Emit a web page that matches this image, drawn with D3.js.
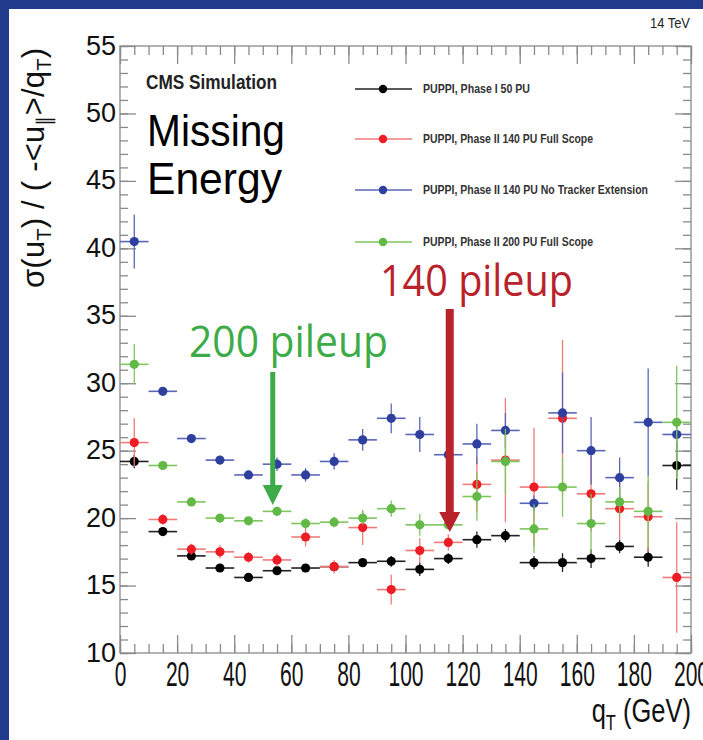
<!DOCTYPE html>
<html>
<head>
<meta charset="utf-8">
<script src="https://cdn.jsdelivr.net/npm/d3@7"></script>
<style>
  body { margin: 0; background: #fff; }
  svg text { font-family: "Liberation Sans", Arial, sans-serif; }
</style>
</head>
<body>
<div id="chart"></div>
<script>
// bin centres (GeV) and resolution values
const qtBins = [5, 15, 25, 35, 45, 55, 65, 75, 85, 95, 105, 115, 125, 135, 145, 155, 165, 175, 185, 195];

const pu50      = [24.2, 19.0, 17.2, 16.3, 15.6, 16.1, 16.3, 16.4, 16.7, 16.8, 16.2, 17.0, 18.4, 18.7, 16.7, 16.7, 17.0, 17.9, 17.1, 23.9];
const pu50Err   = [0.5, 0.3, 0.3, 0.3, 0.3, 0.3, 0.3, 0.3, 0.3, 0.4, 0.5, 0.4, 0.6, 0.5, 0.5, 0.7, 0.7, 0.5, 0.7, 1.8];
const pu140     = [25.6, 19.9, 17.7, 17.5, 17.1, 16.9, 18.6, 16.4, 19.3, 14.7, 17.6, 18.2, 22.5, 24.3, 22.3, 27.4, 21.8, 20.7, 20.1, 15.6];
const pu140Err  = [1.8, 0.4, 0.4, 0.5, 0.4, 0.5, 0.7, 0.5, 1.3, 1.1, 0.9, 0.6, 2.0, 4.6, 4.4, 5.8, 2.8, 2.3, 2.6, 4.1];
const pu140NoTk    = [40.5, 29.4, 25.9, 24.3, 23.2, 24.0, 23.2, 24.2, 25.8, 27.4, 26.2, 24.7, 25.5, 26.5, 21.1, 27.8, 25.0, 23.0, 27.1, 26.2];
const pu140NoTkErr = [2.0, 0.3, 0.3, 0.3, 0.3, 0.5, 0.5, 0.6, 0.8, 1.1, 1.3, 0.5, 1.5, 1.3, 0.6, 3.0, 2.5, 1.5, 4.0, 1.0];
const pu200     = [31.4, 23.9, 21.2, 20.0, 19.8, 20.5, 19.6, 19.7, 20.0, 20.7, 19.5, 19.5, 21.6, 24.2, 19.2, 22.3, 19.6, 21.2, 20.5, 27.1];
const pu200Err  = [1.5, 0.3, 0.3, 0.3, 0.3, 0.3, 0.4, 0.4, 0.5, 0.6, 0.8, 0.3, 1.8, 2.4, 1.8, 2.2, 2.2, 1.1, 2.7, 4.2];

const seriesNames = [
  "PUPPI, Phase I 50 PU",
  "PUPPI, Phase II 140 PU Full Scope",
  "PUPPI, Phase II 140 PU No Tracker Extension",
  "PUPPI, Phase II 200 PU Full Scope"
];
const xTicks = [0, 20, 40, 60, 80, 100, 120, 140, 160, 180, 200];
const yTicks = [10, 15, 20, 25, 30, 35, 40, 45, 50, 55];
const binHalfWidth = 5;

// styling per series
const series = [
  { name: seriesNames[0], vals: pu50,       errs: pu50Err,       dot: "#000000", line: "#222222", legendW: 107 },
  { name: seriesNames[1], vals: pu140,      errs: pu140Err,      dot: "#ee1c24", line: "#f27a7a", legendW: 170 },
  { name: seriesNames[2], vals: pu140NoTk,  errs: pu140NoTkErr,  dot: "#2e3f9e", line: "#5a67b8", legendW: 225 },
  { name: seriesNames[3], vals: pu200,      errs: pu200Err,      dot: "#62b946", line: "#7fc65e", legendW: 170 }
];

const W = 703, H = 740;
const plot = { left: 120, right: 691, top: 46, bottom: 653 };

const svg = d3.select("#chart")
  .append("svg")
    .attr("width", W)
    .attr("height", H);

// slide frame
svg.append("rect").attr("width", W).attr("height", H).attr("fill", "#223a8b");
svg.append("rect").attr("x", 9).attr("y", 9).attr("width", W - 9).attr("height", H - 9).attr("fill", "#fff");

const x = d3.scaleLinear().domain([0, 200]).range([plot.left, plot.right]);
const y = d3.scaleLinear().domain([10, 55]).range([plot.bottom, plot.top]);

// frame
svg.append("rect")
  .attr("x", plot.left).attr("y", plot.top)
  .attr("width", plot.right - plot.left).attr("height", plot.bottom - plot.top)
  .attr("fill", "none").attr("stroke", "#8a8a8a").attr("stroke-width", 1.3);

const axisColor = "#8a8a8a";
function styleTicks(g) {
  g.select(".domain").remove();
  g.selectAll(".tick line").attr("stroke", axisColor).attr("stroke-width", 1.3);
}

// x ticks, bottom and top
const xMinor = d3.range(0, 201, 5);
svg.append("g").attr("transform", `translate(0,${plot.bottom})`)
  .call(d3.axisBottom(x).tickValues(xMinor).tickSize(-9).tickFormat(""))
  .call(styleTicks);
svg.append("g").attr("transform", `translate(0,${plot.top})`)
  .call(d3.axisTop(x).tickValues(xMinor).tickSize(-9).tickFormat(""))
  .call(styleTicks);
const xMajor = svg.append("g").attr("transform", `translate(0,${plot.bottom})`)
  .call(d3.axisBottom(x).tickValues(xTicks).tickSize(-18).tickFormat(d => d))
  .call(styleTicks);
xMajor.selectAll(".tick text")
  .attr("y", 0).attr("dy", null)
  .attr("transform", "translate(0,33) scale(0.62,1.05)")
  .attr("fill", "#111")
  .style("font-size", "34px");
svg.append("g").attr("transform", `translate(0,${plot.top})`)
  .call(d3.axisTop(x).tickValues(xTicks).tickSize(-18).tickFormat(""))
  .call(styleTicks);

// y ticks, left and right
const yMinor = d3.range(10, 55.5, 1);
svg.append("g").attr("transform", `translate(${plot.left},0)`)
  .call(d3.axisLeft(y).tickValues(yMinor).tickSize(-8).tickFormat(""))
  .call(styleTicks);
svg.append("g").attr("transform", `translate(${plot.right},0)`)
  .call(d3.axisRight(y).tickValues(yMinor).tickSize(-8).tickFormat(""))
  .call(styleTicks);
const yMajor = svg.append("g").attr("transform", `translate(${plot.left},0)`)
  .call(d3.axisLeft(y).tickValues(yTicks).tickSize(-16).tickFormat(d => d))
  .call(styleTicks);
yMajor.selectAll(".tick text")
  .attr("x", -4).attr("dy", "0.3em")
  .attr("fill", "#111")
  .style("font-size", "27px");
svg.append("g").attr("transform", `translate(${plot.right},0)`)
  .call(d3.axisRight(y).tickValues(yTicks).tickSize(-16).tickFormat(""))
  .call(styleTicks);

// data: error bars then markers, series in legend order
series.forEach(s => {
  const pts = qtBins.map((q, i) => ({ q: q, v: s.vals[i], e: s.errs[i] }));
  const g = svg.append("g");
  g.selectAll("line.h").data(pts).join("line")
    .attr("x1", d => x(d.q - binHalfWidth)).attr("x2", d => x(d.q + binHalfWidth))
    .attr("y1", d => y(d.v)).attr("y2", d => y(d.v))
    .attr("stroke", s.line).attr("stroke-width", 1.6);
  g.selectAll("line.v").data(pts).join("line")
    .attr("x1", d => x(d.q)).attr("x2", d => x(d.q))
    .attr("y1", d => y(d.v - d.e)).attr("y2", d => y(d.v + d.e))
    .attr("stroke", s.line).attr("stroke-width", 1.3);
  g.selectAll("circle").data(pts).join("circle")
    .attr("cx", d => x(d.q)).attr("cy", d => y(d.v))
    .attr("r", 4.6).attr("fill", s.dot);
});

// legend
const legendRows = [89, 139, 190, 242];
const legend = svg.selectAll(".legend").data(series).join("g")
  .attr("transform", (d, i) => `translate(0,${legendRows[i]})`);
legend.append("line").attr("x1", 355).attr("x2", 412).attr("y1", 0).attr("y2", 0)
  .attr("stroke", d => d.line).attr("stroke-width", 1.4);
legend.append("circle").attr("cx", 383).attr("cy", 0).attr("r", 4.2).attr("fill", d => d.dot);
legend.append("text").attr("x", 423).attr("y", 4)
  .attr("textLength", d => d.legendW).attr("lengthAdjust", "spacingAndGlyphs")
  .style("font-size", "12px").style("font-weight", "bold").attr("fill", "#333")
  .text(d => d.name);

// labels
svg.append("text").attr("x", 146).attr("y", 89)
  .attr("textLength", 131).attr("lengthAdjust", "spacingAndGlyphs")
  .style("font-size", "21px").style("font-weight", "bold").attr("fill", "#222")
  .text("CMS Simulation");
svg.append("text").attr("x", 147).attr("y", 146)
  .attr("textLength", 138).attr("lengthAdjust", "spacingAndGlyphs")
  .style("font-size", "44px").attr("fill", "#000")
  .text("Missing");
svg.append("text").attr("x", 147).attr("y", 194)
  .attr("textLength", 135).attr("lengthAdjust", "spacingAndGlyphs")
  .style("font-size", "44px").attr("fill", "#000")
  .text("Energy");
svg.append("text").attr("x", 690).attr("y", 28).attr("text-anchor", "end")
  .attr("textLength", 40).attr("lengthAdjust", "spacingAndGlyphs")
  .style("font-size", "15px").attr("fill", "#222")
  .text("14 TeV");

// x title
const xt = svg.append("text").attr("x", 691).attr("y", 722).attr("text-anchor", "end")
  .attr("transform", "translate(691,722) scale(0.75,1) translate(-691,-722)")
  .style("font-size", "34px").attr("fill", "#111");
xt.append("tspan").text("q");
xt.append("tspan").attr("baseline-shift", "-35%").style("font-size", "22px").text("T");
xt.append("tspan").text(" (GeV)");

// y title
const yt = svg.append("text")
  .attr("transform", "translate(44,48) rotate(-90)")
  .attr("text-anchor", "end")
  .attr("textLength", 240)
  .style("font-size", "31px").attr("fill", "#111");
yt.append("tspan").text("σ(u");
yt.append("tspan").attr("baseline-shift", "-35%").style("font-size", "20px").text("T");
yt.append("tspan").text(") / ( -<u");
yt.append("tspan").attr("baseline-shift", "-35%").style("font-size", "20px").text("∥");
yt.append("tspan").text(">/q");
yt.append("tspan").attr("baseline-shift", "-35%").style("font-size", "20px").text("T");
yt.append("tspan").text(")");

// pileup annotations with arrows
function arrow(xc, y0, tip, shaftW, headW, headH, color) {
  const p = d3.path();
  p.moveTo(xc - shaftW / 2, y0);
  p.lineTo(xc + shaftW / 2, y0);
  p.lineTo(xc + shaftW / 2, tip - headH);
  p.lineTo(xc + headW / 2, tip - headH);
  p.lineTo(xc, tip);
  p.lineTo(xc - headW / 2, tip - headH);
  p.lineTo(xc - shaftW / 2, tip - headH);
  p.closePath();
  svg.append("path").attr("d", p.toString()).attr("fill", color);
}

svg.append("text").attr("x", 189).attr("y", 357)
  .attr("textLength", 199).attr("lengthAdjust", "spacingAndGlyphs")
  .style("font-family", "'Open Sans', sans-serif").style("font-size", "43px")
  .attr("fill", "#3dab48").text("200 pileup");
arrow(x(53.5), 372, 505, 5, 20, 20, "#3dab48");

svg.append("text").attr("x", 380).attr("y", 296)
  .attr("textLength", 193).attr("lengthAdjust", "spacingAndGlyphs")
  .style("font-family", "'Open Sans', sans-serif").style("font-size", "43px")
  .attr("fill", "#b8232b").text("140 pileup");
arrow(x(115.5), 309, 532, 8, 21, 20, "#b8232b");
</script>
</body>
</html>
